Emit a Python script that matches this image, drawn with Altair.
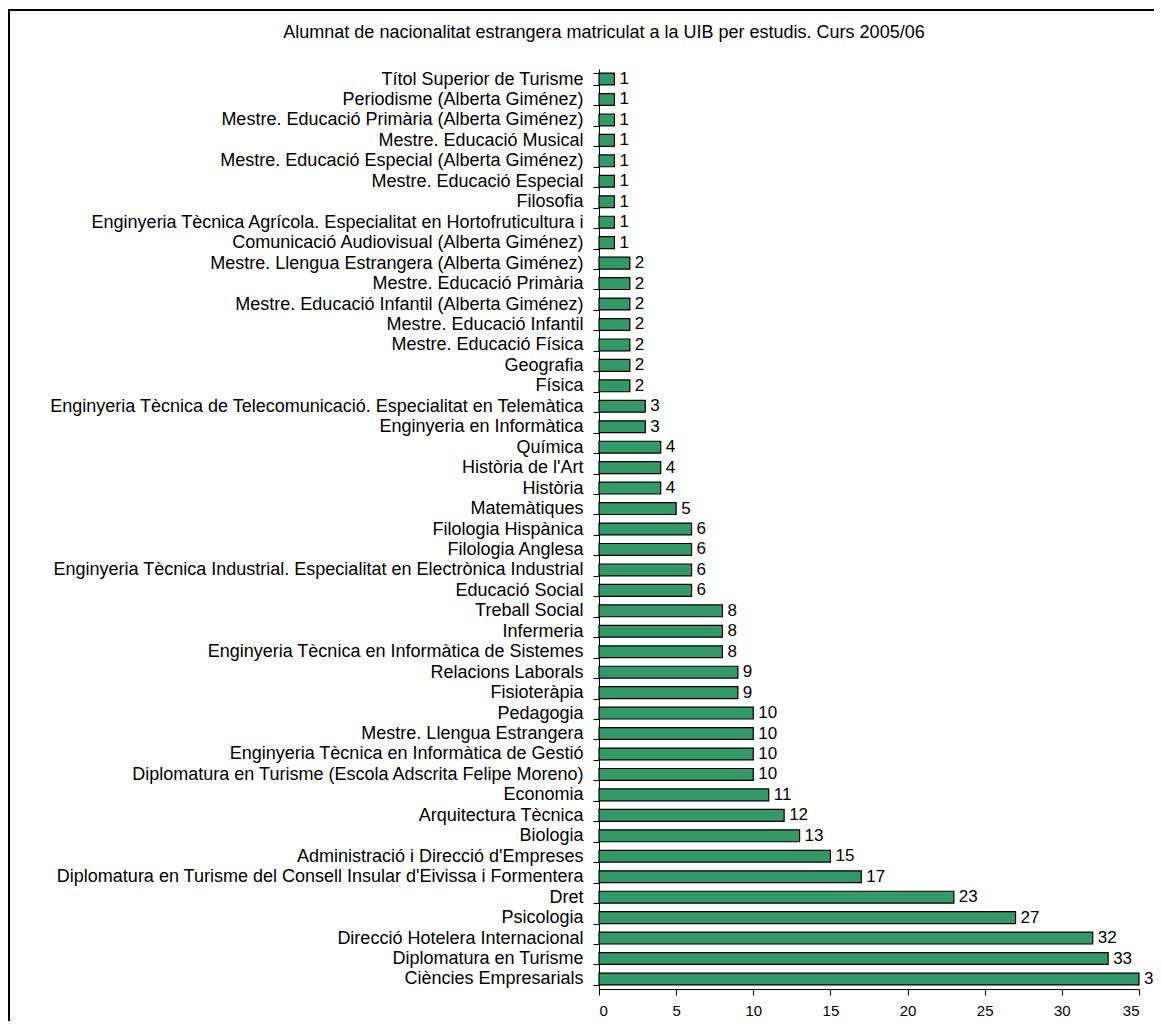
import altair as alt
import pandas as pd

title_text = "Alumnat de nacionalitat estrangera matriculat a la UIB per estudis. Curs 2005/06"

studies = [
    "Títol Superior de Turisme",
    "Periodisme (Alberta Giménez)",
    "Mestre. Educació Primària (Alberta Giménez)",
    "Mestre. Educació Musical",
    "Mestre. Educació Especial (Alberta Giménez)",
    "Mestre. Educació Especial",
    "Filosofia",
    "Enginyeria Tècnica Agrícola. Especialitat en Hortofruticultura i",
    "Comunicació Audiovisual (Alberta Giménez)",
    "Mestre. Llengua Estrangera (Alberta Giménez)",
    "Mestre. Educació Primària",
    "Mestre. Educació Infantil (Alberta Giménez)",
    "Mestre. Educació Infantil",
    "Mestre. Educació Física",
    "Geografia",
    "Física",
    "Enginyeria Tècnica de Telecomunicació. Especialitat en Telemàtica",
    "Enginyeria en Informàtica",
    "Química",
    "Història de l'Art",
    "Història",
    "Matemàtiques",
    "Filologia Hispànica",
    "Filologia Anglesa",
    "Enginyeria Tècnica Industrial. Especialitat en Electrònica Industrial",
    "Educació Social",
    "Treball Social",
    "Infermeria",
    "Enginyeria Tècnica en Informàtica de Sistemes",
    "Relacions Laborals",
    "Fisioteràpia",
    "Pedagogia",
    "Mestre. Llengua Estrangera",
    "Enginyeria Tècnica en Informàtica de Gestió",
    "Diplomatura en Turisme (Escola Adscrita Felipe Moreno)",
    "Economia",
    "Arquitectura Tècnica",
    "Biologia",
    "Administració i Direcció d'Empreses",
    "Diplomatura en Turisme del Consell Insular d'Eivissa i Formentera",
    "Dret",
    "Psicologia",
    "Direcció Hotelera Internacional",
    "Diplomatura en Turisme",
    "Ciències Empresarials",
]

students = [1, 1, 1, 1, 1, 1, 1, 1, 1,
            2, 2, 2, 2, 2, 2, 2,
            3, 3,
            4, 4, 4,
            5,
            6, 6, 6, 6,
            8, 8, 8,
            9, 9,
            10, 10, 10, 10,
            11, 12, 13, 15, 17, 23, 27, 32, 33, 35]

x_ticks = [0, 5, 10, 15, 20, 25, 30, 35]

df = pd.DataFrame({"estudi": studies, "alumnes": students})

FONT = "Liberation Sans"

y_enc = alt.Y("estudi:N", sort=studies, title=None,
              scale=alt.Scale(paddingInner=0.42, paddingOuter=0.2),
              axis=alt.Axis(tickBand="extent", tickSize=6, labelPadding=10,
                            labelFontSize=18, labelFont=FONT, labelColor="black",
                            domainColor="black", tickColor="black", labelLimit=800,
                            grid=False))
x_enc = alt.X("alumnes:Q", title=None,
              scale=alt.Scale(domain=[0, 35], nice=False),
              axis=alt.Axis(values=x_ticks, grid=False, tickSize=6, labelPadding=8,
                            labelFontSize=15, labelFont=FONT, labelColor="black",
                            domainColor="black", tickColor="black"))

base = alt.Chart(df).encode(y=y_enc, x=x_enc)

bars = base.mark_bar(color="#339966", stroke="black", strokeWidth=1.2)
labels = base.mark_text(align="left", baseline="middle", dx=5, fontSize=17,
                        font=FONT, color="black").encode(text="alumnes:Q")

one = alt.Data(values=[{"t": title_text}])
title = alt.Chart(one).mark_text(fontSize=18, font=FONT, color="black",
                                 align="center", baseline="middle").encode(
    x=alt.value(5), y=alt.value(-36), text="t:N")

border = alt.Chart(one).mark_rect(fill="transparent", stroke="black", strokeWidth=2).encode(
    x=alt.value(-590), x2=alt.value(700), y=alt.value(-59), y2=alt.value(1100))

chart = alt.layer(border, bars, labels, title).properties(
    width=540, height=920,
    view=alt.ViewBackground(stroke="transparent", strokeWidth=0, strokeOpacity=0),
    autosize=alt.AutoSizeParams(type="none"),
    padding={"left": 591, "top": 61, "right": 15, "bottom": 32},
).configure(
    background="white",
    view=alt.ViewConfig(stroke="transparent", strokeWidth=0, strokeOpacity=0),
    style={"cell": {"stroke": "transparent", "strokeOpacity": 0}},
)

chart.save("out.html", embed_options={"renderer": "svg", "actions": False})
